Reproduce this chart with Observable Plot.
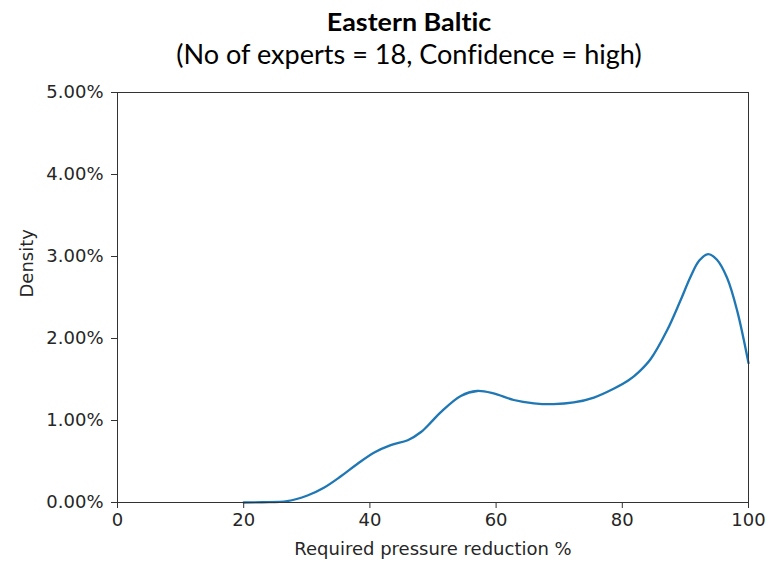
<!DOCTYPE html>
<html>
<head>
<meta charset="utf-8">
<script src="https://cdn.jsdelivr.net/npm/d3@7"></script>
<script src="https://cdn.jsdelivr.net/npm/@observablehq/plot@0.6"></script>
<style>
  html, body { margin: 0; padding: 0; background: #fff; }
  #wrap { width: 772px; height: 565px; position: relative; overflow: hidden; }
  #head { position: relative; width: 772px; height: 80px; font-variant-ligatures: none; }
  #title { position: absolute; left: 0; width: 818px; top: 8px; text-align: center;
           font-family: Lato, "Open Sans", sans-serif; font-weight: bold; font-size: 24px; color: #000; line-height: 28px;
           transform: scaleX(1.12); transform-origin: 409px 0; }
  #subtitle { position: absolute; left: 0; width: 818px; top: 39px; text-align: center;
           font-family: Lato, "Open Sans", sans-serif; font-size: 26px; color: #000; line-height: 30px;
           transform: scaleX(1.04); transform-origin: 409px 0; }
</style>
</head>
<body>
<div id="wrap">
  <div id="head">
    <div id="title">Eastern Baltic</div>
    <div id="subtitle">(No of experts = 18, Confidence = high)</div>
  </div>
  <div id="chart"></div>
</div>
<script>
// Data (x = required pressure reduction %, y = density in %)
const reduction = [20, 23, 26.9, 30.1, 32.7, 35.4, 38.0, 40.7, 43.3, 46.0, 48.1, 49.7, 51.2, 54.4, 57.0, 59.6, 62.8, 66.0, 69.1, 72.3, 75.5, 78.7, 81.0, 82.6, 84.5, 87.1, 89.2, 90.8, 92.2, 93.6, 95.0, 96.6, 98.2, 100];
const density   = [0, 0.003, 0.016, 0.085, 0.18, 0.32, 0.47, 0.61, 0.70, 0.76, 0.86, 0.98, 1.10, 1.30, 1.36, 1.33, 1.25, 1.21, 1.20, 1.22, 1.28, 1.39, 1.49, 1.59, 1.75, 2.10, 2.46, 2.75, 2.95, 3.03, 2.96, 2.74, 2.34, 1.70];
const xTicks = [0, 20, 40, 60, 80, 100];
const yTicks = [0, 1, 2, 3, 4, 5];
const xLabel = "Required pressure reduction %";
const yLabel = "Density";

const data = reduction.map((x, i) => ({x, y: density[i]}));

const chart = Plot.plot({
  width: 772,
  height: 485,
  marginTop: 12,
  marginBottom: 63,
  marginLeft: 117,
  marginRight: 24,
  style: {fontFamily: "'DejaVu Sans', sans-serif", fontSize: "18px", color: "#262626", background: "#fff"},
  x: {domain: [0, 100]},
  y: {domain: [0, 5]},
  marks: [
    Plot.line(data, {x: "x", y: "y", stroke: "#1f77b4", strokeWidth: 2.3, curve: "catmull-rom"}),
    Plot.frame({stroke: "#333", strokeWidth: 1}),
    Plot.axisX({ticks: xTicks, tickSize: 6, tickPadding: 5, fontSize: 18, label: null, stroke: "#333"}),
    Plot.axisY({ticks: yTicks, tickSize: 6, tickPadding: 8, fontSize: 18, label: null, tickFormat: d => d.toFixed(2) + "%", stroke: "#333"}),
    Plot.text([xLabel], {frameAnchor: "bottom", dy: 47, text: d => d, fontSize: 18, lineAnchor: "middle", fill: "#262626"}),
    Plot.text([yLabel], {frameAnchor: "left", dx: -90, rotate: -90, text: d => d, fontSize: 18, lineAnchor: "middle", fill: "#262626"})
  ]
});
document.getElementById("chart").appendChild(chart);
</script>
</body>
</html>
